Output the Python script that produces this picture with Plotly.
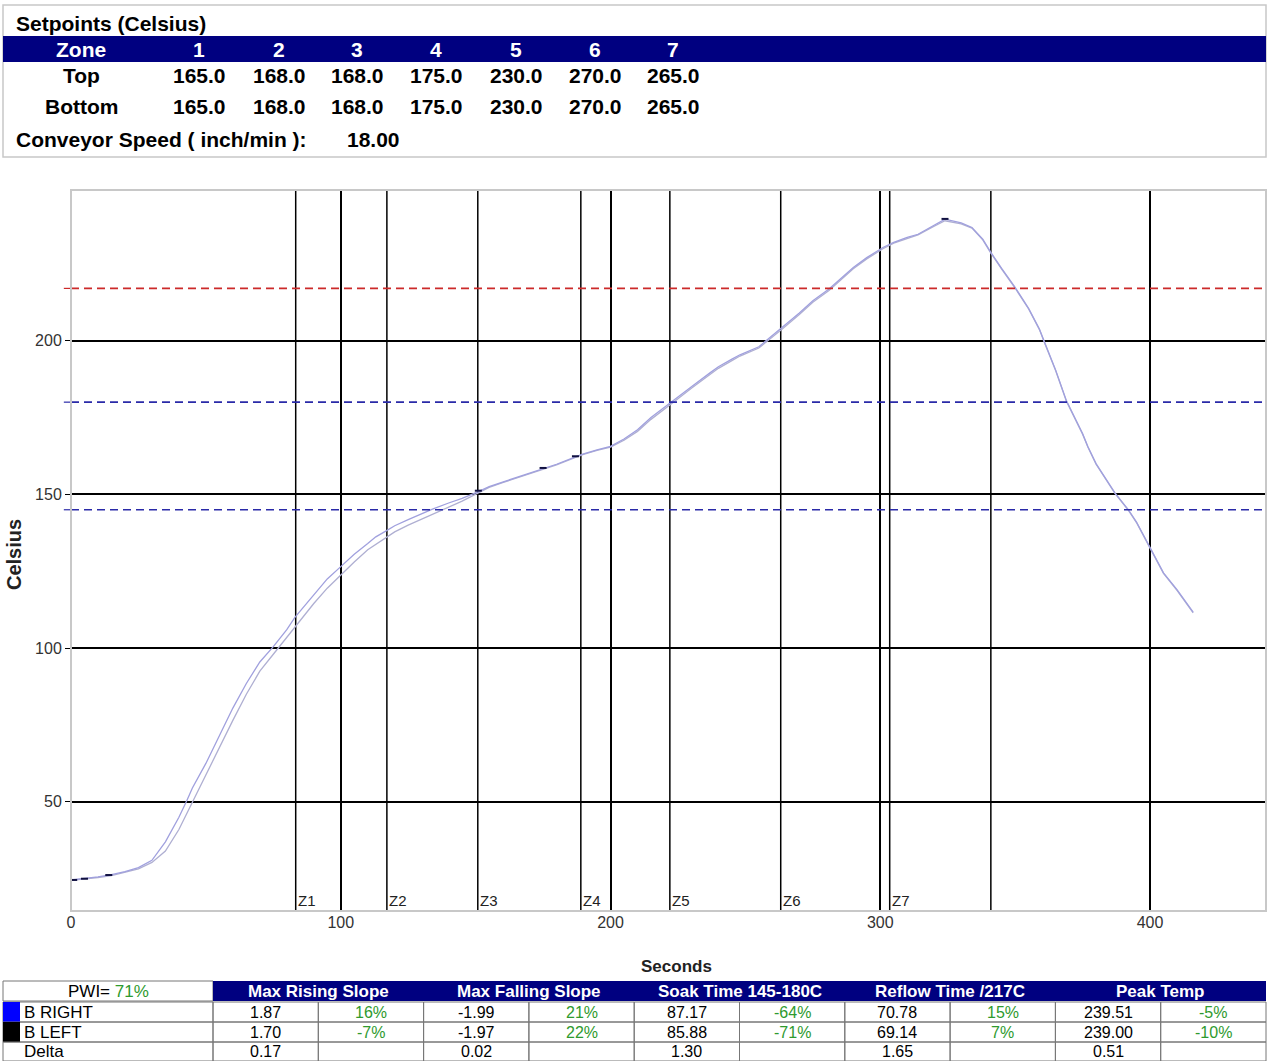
import plotly.graph_objects as go

# ---------------- data ----------------
time_right = [0, 5, 10, 15, 20, 25, 30, 35, 40, 43, 45, 50, 55, 60, 65, 70, 75, 80, 83, 90, 95, 100,
              105, 110, 113, 117, 120, 125, 130, 134, 140, 145, 151, 155, 160, 165, 170, 175, 180, 187,
              190, 195, 200, 205, 210, 215, 222, 225, 230, 237, 240, 245, 248, 255, 260, 264, 270, 275,
              281, 285, 290, 295, 301, 305, 310, 314, 320, 324, 330, 334, 338, 341, 345, 350, 355, 359,
              361, 365, 369, 375, 377, 380, 387, 392, 395, 401, 405, 410, 416]
temp_right = [24.6, 25.0, 25.6, 26.3, 27.3, 28.6, 31.0, 37.0, 45.0, 50.5, 54.5, 62.5, 71.5, 80.5, 88.5,
              95.5, 100.5, 106.0, 110.0, 117.5, 122.5, 126.5, 130.5, 134.0, 136.2, 138.2, 139.8,
              141.8, 143.7, 145.2, 147.2, 148.7, 150.9, 152.5, 154.0, 155.5, 157.0, 158.4, 159.8,
              162.2, 163.2, 164.5, 165.6, 168.0, 171.0, 175.0, 179.8, 181.6, 185.0, 189.6, 191.5,
              194.0, 195.4, 198.0, 201.5, 204.6, 209.0, 213.0, 216.8, 220.0, 223.8, 227.0, 230.3,
              232.0, 233.6, 234.6, 237.5, 239.5, 238.3, 236.8, 233.0, 228.7, 223.5, 217.3, 210.5,
              203.8, 199.3, 190.5, 180.5, 169.8, 165.5, 160.0, 150.5, 145.0, 141.0, 131.0, 124.5,
              119.0, 111.7]

time_left = [0, 5, 10, 15, 20, 25, 30, 35, 40, 45, 50, 55, 60, 65, 70, 75, 80, 85, 90, 95, 100,
             105, 110, 115, 120, 125, 130, 135, 140, 145, 151, 155, 160, 165, 170, 175, 180, 187,
             190, 195, 200, 205, 210, 215, 222, 225, 230, 237, 240, 245, 248, 255, 260, 264, 270,
             275, 281, 285, 290, 295, 301, 305, 310, 314, 320, 324, 330, 334, 338, 341, 345, 350,
             355, 359, 361, 365, 369, 375, 377, 380, 387, 392, 395, 401, 405, 410, 416]
temp_left = [24.5, 24.9, 25.4, 26.0, 27.0, 28.2, 30.3, 34.0, 41.0, 50.0, 58.5, 67.5, 76.5, 85.0,
             92.5, 98.0, 103.5, 109.0, 114.5, 119.5, 123.8, 128.0, 132.0, 135.0, 137.8, 140.0,
             142.0, 144.0, 146.0, 147.8, 150.5, 152.3, 153.8, 155.3, 156.8, 158.2, 159.6, 162.0,
             163.0, 164.3, 165.4, 167.6, 170.5, 174.4, 179.3, 181.1, 184.5, 189.0, 191.0, 193.5,
             195.0, 197.6, 201.0, 204.0, 208.5, 212.5, 216.3, 219.6, 223.4, 226.6, 229.9, 231.7,
             233.3, 234.4, 237.2, 239.0, 238.0, 236.6, 232.8, 228.5, 223.3, 217.1, 210.3, 203.6,
             199.1, 190.3, 180.3, 169.6, 165.3, 159.8, 150.3, 144.8, 140.8, 130.8, 124.3, 118.8,
             111.5]

marker_time = [1, 5, 14, 151, 175, 187, 324]
marker_temp = [24.6, 25.0, 26.2, 151.2, 158.6, 162.4, 239.6]

zone_bounds = [83.3, 117.1, 150.8, 189.0, 222.0, 263.1, 303.5, 341.0]
zone_labels = ["Z1", "Z2", "Z3", "Z4", "Z5", "Z6", "Z7"]

limit_levels = [217, 180, 145]
limit_colors = ["#cc2a2a", "#2a2aa8", "#2a2aa8"]

x_ticks = [0, 100, 200, 300, 400]
y_ticks = [50, 100, 150, 200]

setpoint_zones = ["1", "2", "3", "4", "5", "6", "7"]
setpoint_top = ["165.0", "168.0", "168.0", "175.0", "230.0", "270.0", "265.0"]
setpoint_bottom = ["165.0", "168.0", "168.0", "175.0", "230.0", "270.0", "265.0"]
conveyor_speed = "18.00"

stat_headers = ["Max Rising Slope", "Max Falling Slope", "Soak Time 145-180C", "Reflow Time /217C", "Peak Temp"]
row_names = ["B RIGHT", "B LEFT", "Delta"]
row_swatch = ["#0000ff", "#000000", None]
row_right = ["1.87", "16%", "-1.99", "21%", "87.17", "-64%", "70.78", "15%", "239.51", "-5%"]
row_left = ["1.70", "-7%", "-1.97", "22%", "85.88", "-71%", "69.14", "7%", "239.00", "-10%"]
row_delta = ["0.17", "", "0.02", "", "1.30", "", "1.65", "", "0.51", ""]
pwi_value = "71%"

# ---------------- layout helpers ----------------
W, H = 1268, 1061
L, R, T, B = 71, 2, 190, 150
PW, PH = W - L - R, H - T - B


def px(x):
    return (x - L) / PW


def py(y):
    return (H - B - y) / PH


FONT = "Liberation Sans, Arial, sans-serif"
NAVY = "#000080"
GREEN = "#2e9a2e"
CURVE = "#a0a0de"

fig = go.Figure()
fig.add_trace(go.Scatter(x=time_left, y=temp_left, mode="lines", name="B LEFT",
                         line=dict(color="#afafd2", width=1.3), hoverinfo="skip"))
fig.add_trace(go.Scatter(x=time_right, y=temp_right, mode="lines", name="B RIGHT",
                         line=dict(color=CURVE, width=1.3), hoverinfo="skip"))
fig.add_trace(go.Scatter(x=marker_time, y=marker_temp, mode="markers", showlegend=False,
                         marker=dict(symbol="line-ew", size=5, line=dict(color="#101040", width=2)),
                         hoverinfo="skip"))

shapes = []
annotations = []

# limit lines
for lv, col in zip(limit_levels, limit_colors):
    shapes.append(dict(type="line", xref="paper", yref="y", x0=0, x1=1, y0=lv, y1=lv,
                       line=dict(color=col, width=1.6, dash="8px,5px"), layer="above"))
    shapes.append(dict(type="line", xref="paper", yref="y", x0=-0.006, x1=0, y0=lv, y1=lv,
                       line=dict(color=col, width=1.2)))

# zone lines
for i, zb in enumerate(zone_bounds):
    shapes.append(dict(type="line", xref="x", yref="paper", x0=zb, x1=zb, y0=0, y1=1,
                       line=dict(color="black", width=1.5), layer="below"))
    if i < len(zone_labels):
        annotations.append(dict(xref="x", yref="paper", x=zb, y=py(900), text=zone_labels[i],
                                showarrow=False, xanchor="left", yanchor="middle", xshift=0,
                                font=dict(family=FONT, size=15, color="#222")))

# plot frame
shapes.append(dict(type="rect", xref="paper", yref="paper", x0=0, x1=1, y0=0, y1=1,
                   line=dict(color="#c8c8c8", width=2), layer="above"))

# ---------- top setpoint table ----------
shapes.append(dict(type="rect", xref="paper", yref="paper", x0=px(3), x1=px(1266), y0=py(157), y1=py(5),
                   line=dict(color="#c8c8c8", width=1.5)))
shapes.append(dict(type="rect", xref="paper", yref="paper", x0=px(3), x1=px(1266), y0=py(62), y1=py(36),
                   line=dict(width=0), fillcolor=NAVY))


def txt(x, y, s, size=17, color="black", bold=True, anchor="center"):
    annotations.append(dict(xref="paper", yref="paper", x=px(x), y=py(y), text=(f"<b>{s}</b>" if bold else s),
                            showarrow=False, xanchor=anchor, yanchor="middle",
                            font=dict(family=FONT, size=size, color=color)))


TS = 21
txt(14, 23, "Setpoints (Celsius)", size=TS, anchor="left")
col_x = [199, 279, 357, 436, 516, 595, 673]
txt(81, 49, "Zone", size=TS, color="white")
txt(81, 75, "Top", size=TS)
txt(81, 106, "Bottom", size=TS)
for cx, z, tv, bv in zip(col_x, setpoint_zones, setpoint_top, setpoint_bottom):
    txt(cx, 49, z, size=TS, color="white")
    txt(cx, 75, tv, size=TS)
    txt(cx, 106, bv, size=TS)
txt(14, 139, "Conveyor Speed ( inch/min ):", size=TS, anchor="left")
txt(373, 139, conveyor_speed, size=TS)

# axis titles
annotations.append(dict(xref="paper", yref="paper", x=px(14), y=py(555), text="<b>Celsius</b>",
                        showarrow=False, textangle=-90, xanchor="center", yanchor="middle",
                        font=dict(family=FONT, size=20, color="#222")))
txt(676, 966, "Seconds", size=17, color="#222")

# ---------- bottom statistics table ----------
row_top = [981, 1002, 1022, 1042]
row_h = [21, 20, 20, 19]
col_edges = [213 + k * 105.3 for k in range(11)]
shapes.append(dict(type="rect", xref="paper", yref="paper", x0=px(3), x1=px(213), y0=py(1001), y1=py(981),
                   line=dict(color="#777", width=1)))
shapes.append(dict(type="rect", xref="paper", yref="paper", x0=px(213), x1=px(1266), y0=py(1001), y1=py(981),
                   line=dict(width=0), fillcolor=NAVY))
annotations.append(dict(xref="paper", yref="paper", x=px(108), y=py(991),
                        text=f"PWI= <span style='color:{GREEN}'>{pwi_value}</span>", showarrow=False,
                        xanchor="center", yanchor="middle", font=dict(family=FONT, size=17, color="black")))
for k, hname in enumerate(stat_headers):
    cx = (col_edges[2 * k] + col_edges[2 * k + 2]) / 2
    txt(cx, 991, hname, size=17, color="white")

rows = [row_right, row_left, row_delta]
for r, (name, sw, vals) in enumerate(zip(row_names, row_swatch, rows)):
    y0, y1 = row_top[r + 1], row_top[r + 1] + row_h[r + 1]
    yc = (y0 + y1) / 2
    shapes.append(dict(type="rect", xref="paper", yref="paper", x0=px(3), x1=px(213), y0=py(y1), y1=py(y0),
                       line=dict(color="#777", width=1)))
    if sw:
        shapes.append(dict(type="rect", xref="paper", yref="paper", x0=px(3), x1=px(20), y0=py(y1), y1=py(y0),
                           line=dict(width=0), fillcolor=sw))
    txt(22, yc, name, size=17, bold=False, anchor="left")
    for c in range(10):
        shapes.append(dict(type="rect", xref="paper", yref="paper", x0=px(col_edges[c]), x1=px(col_edges[c + 1]),
                           y0=py(y1), y1=py(y0), line=dict(color="#777", width=1)))
        v = vals[c]
        if v:
            color = GREEN if c % 2 == 1 else "black"
            txt((col_edges[c] + col_edges[c + 1]) / 2, yc, v, size=16, bold=False, color=color)

fig.update_layout(
    width=W, height=H,
    margin=dict(l=L, r=R, t=T, b=B, pad=0),
    paper_bgcolor="white", plot_bgcolor="white",
    showlegend=False,
    shapes=shapes, annotations=annotations,
    font=dict(family=FONT),
    xaxis=dict(range=[0, 443], tickvals=x_ticks, ticktext=[str(v) for v in x_ticks],
               showgrid=True, gridcolor="black", gridwidth=1.5, zeroline=False,
               showline=False, ticks="", tickfont=dict(family=FONT, size=16, color="#333")),
    yaxis=dict(range=[14.5, 249], tickvals=y_ticks, ticktext=[str(v) for v in y_ticks],
               showgrid=True, gridcolor="black", gridwidth=1.5, zeroline=False,
               showline=False, ticks="outside", ticklen=5, tickcolor="black",
               tickfont=dict(family=FONT, size=16, color="#333")),
)

fig.write_html("out.html", config={"displayModeBar": False},
               post_script="document.body.style.margin='0';document.body.style.overflow='hidden';")
